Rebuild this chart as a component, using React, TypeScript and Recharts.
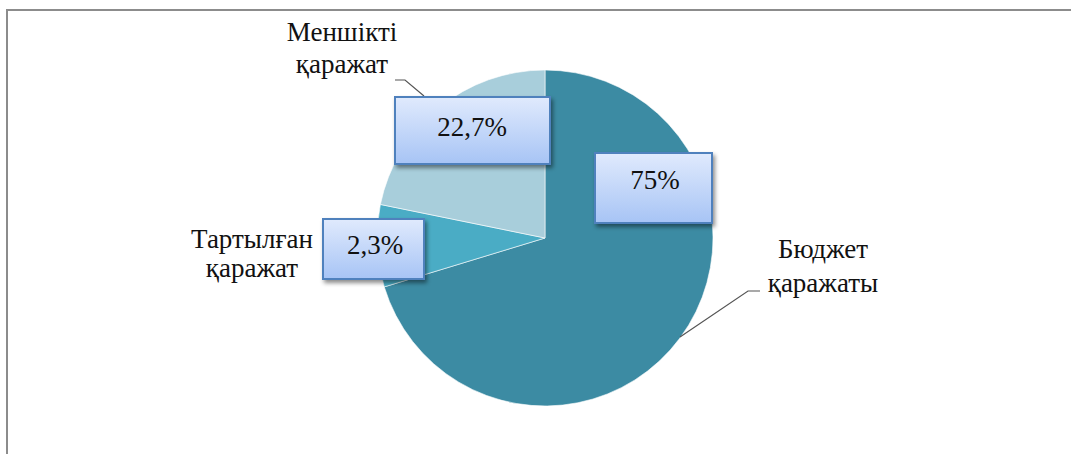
import React from "react";
import { PieChart, Pie, Cell } from "recharts";

const categories = ["Бюджет қаражаты", "Тартылған қаражат", "Меншікті қаражат"];
const categoryLines = [
  ["Бюджет", "қаражаты"],
  ["Тартылған", "қаражат"],
  ["Меншікті", "қаражат"],
];
const sliceValues = [70.3, 7.9, 21.8];
const valueLabels = ["75%", "2,3%", "22,7%"];
const sliceColors = ["#3c8ba3", "#4aacc5", "#a8cedb"];

const data = categories.map((name, i) => ({ name, value: sliceValues[i] }));

// label layout, offsets relative to the pie centre
const boxLayout = [
  { x: 50, y: -85, w: 117, h: 70, tx: 60, ty: 27 },
  { x: -222, y: -19, w: 101, h: 60, tx: 52, ty: 26 },
  { x: -150, y: -141, w: 155, h: 67, tx: 77, ty: 30 },
];
const nameLayout = [
  { x: 278, anchor: "middle", y: [20, 54], leader: [[215, 53], [203, 53], [135, 99]] },
  { x: -293, anchor: "middle", y: [10, 39], leader: [] as number[][] },
  { x: -203, anchor: "middle", y: [-197, -165], leader: [[-150, -158], [-140, -158], [-121, -142]] },
];

const FONT = '"Liberation Serif"';
const FS = 27;

const renderLabel = (props: any) => {
  const { cx, cy, index } = props;
  const b = boxLayout[index];
  const n = nameLayout[index];
  const gid = `boxGrad${index}`;
  const fid = `boxShadow${index}`;
  return (
    <g key={`lbl-${index}`}>
      <defs>
        <linearGradient id={gid} x1="0" y1="0" x2="0" y2="1">
          <stop offset="0%" stopColor="#e0eafd" />
          <stop offset="100%" stopColor="#a7c4f5" />
        </linearGradient>
        <filter id={fid} x="-20%" y="-20%" width="140%" height="150%">
          <feDropShadow dx="2" dy="3" stdDeviation="2" floodColor="#000" floodOpacity="0.45" />
        </filter>
      </defs>
      {n.leader.length > 0 && (
        <polyline
          points={n.leader.map((p) => `${cx + p[0]},${cy + p[1]}`).join(" ")}
          fill="none"
          stroke="#555"
          strokeWidth={1.2}
        />
      )}
      {n.y.map((dy, k) => (
        <text
          key={k}
          x={cx + n.x}
          y={cy + dy}
          textAnchor={n.anchor as any}
          style={{ fontFamily: FONT, fontSize: FS }}
          fill="#111"
        >
          {categoryLines[index][k]}
        </text>
      ))}
      <rect
        x={cx + b.x}
        y={cy + b.y}
        width={b.w}
        height={b.h}
        fill={`url(#${gid})`}
        stroke="#4f81bd"
        strokeWidth={2}
        filter={`url(#${fid})`}
      />
      <text
        x={cx + b.x + b.tx}
        y={cy + b.y + b.ty + 9}
        textAnchor="middle"
        style={{ fontFamily: FONT, fontSize: FS }}
        fill="#111"
      >
        {valueLabels[index]}
      </text>
    </g>
  );
};

export default function App() {
  return (
    <div
      style={{
        position: "fixed",
        left: 0,
        top: 0,
        width: 1071,
        height: 454,
        overflow: "hidden",
        background: "#fff",
      }}
    >
      <div
        style={{
          position: "absolute",
          left: 6,
          top: 9,
          width: 1100,
          height: 500,
          border: "2px solid #8c8c8c",
          boxSizing: "border-box",
        }}
      />
      <div style={{ position: "absolute", left: 0, top: 0 }}>
        <PieChart width={1071} height={454} margin={{ top: 0, right: 0, bottom: 0, left: 0 }}>
          <Pie
            data={data}
            dataKey="value"
            nameKey="name"
            cx={545}
            cy={238}
            outerRadius={168}
            startAngle={90}
            endAngle={-270}
            stroke="#ffffff"
            strokeWidth={0.6}
            labelLine={false}
            label={renderLabel}
            isAnimationActive={false}
          >
            {data.map((d, i) => (
              <Cell key={d.name} fill={sliceColors[i]} />
            ))}
          </Pie>
        </PieChart>
      </div>
    </div>
  );
}
